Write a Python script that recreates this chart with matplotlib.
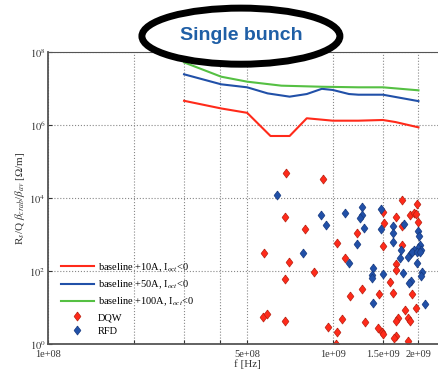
import matplotlib.pyplot as plt
from matplotlib.patches import Ellipse
from matplotlib.lines import Line2D
from matplotlib.ticker import NullLocator

plt.rcParams['font.family'] = ['Liberation Serif', 'DejaVu Serif']
plt.rcParams['mathtext.fontset'] = 'stix'

# baseline thresholds, one frequency grid per curve
f_10a = [3.0e8, 4.05e8, 5.0e8, 6.04e8, 7.05e8, 8.1e8, 1.0e9, 1.23e9, 1.5e9, 1.66e9, 2.0e9]
z_10a = [4.7e6, 2.9e6, 2.2e6, 5.1e5, 5.1e5, 1.56e6, 1.34e6, 1.34e6, 1.4e6, 1.23e6, 8.8e5]

f_50a = [3.0e8, 4.05e8, 5.0e8, 5.9e8, 7.05e8, 8.1e8, 9.15e8, 1.0e9, 1.14e9, 1.23e9, 1.5e9, 2.0e9]
z_50a = [2.5e7, 1.33e7, 1.1e7, 7.5e6, 6.1e6, 7.2e6, 1.0e7, 9.3e6, 7.2e6, 6.9e6, 6.9e6, 4.6e6]

f_100a = [3.0e8, 4.05e8, 5.0e8, 6.6e8, 9.15e8, 1.23e9, 1.5e9, 2.0e9]
z_100a = [5.3e7, 2.15e7, 1.57e7, 1.22e7, 1.14e7, 1.1e7, 1.1e7, 9.1e6]

# HOM impedances, frequency in GHz
dqw_f = [0.686, 0.927, 0.677, 0.796, 0.575, 0.703, 0.857, 0.677, 0.568, 0.589,
         0.677, 0.960, 1.032, 1.22, 1.507, 1.514, 1.507, 1.754, 1.667, 1.746,
         1.754, 1.982, 1.862, 1.923, 1.954, 1.986, 1.10, 1.671, 1.667, 1.592,
         1.265, 1.459, 1.622, 1.901, 1.147, 1.963, 1.795, 1.075, 1.295, 1.69,
         1.663, 1.845, 1.866, 1.439, 1.49, 1.507, 1.032, 1.026, 1.663, 1.64, 1.836]
dqw_z = [4.8e4, 3.3e4, 3.0e3, 1.42e3, 323, 180, 97, 63, 5.7, 6.9,
         4.3, 3.0, 585, 1.14e3, 4.13e3, 2.07e3, 493, 9.0e3, 3.0e3, 1.71e3,
         515, 7.1e3, 3.4e3, 3.9e3, 3.7e3, 2.2e3, 227, 158, 109, 51,
         32, 23.4, 25.4, 23.9, 21, 10.1, 8.5, 4.9, 4.2, 5.15,
         4.35, 5.3, 4.35, 2.74, 2.21, 1.92, 2.17, 1.0, 1.69, 1.46, 1.23]

rfd_f = [0.634, 0.912, 0.946, 0.783, 1.107, 1.271, 1.271, 1.244, 1.291, 1.22,
         1.483, 1.479, 1.622, 1.622, 1.774, 1.63, 1.734, 1.995, 2.009, 2.028,
         1.986, 1.932, 2.042, 1.881, 1.143, 1.383, 1.374, 1.368, 1.503, 1.726,
         1.841, 1.906, 1.969, 2.028, 1.977, 1.767, 2.051, 2.037, 1.881, 1.849,
         1.383, 2.113]
rfd_z = [1.25e4, 3.4e3, 1.85e3, 323, 3.95e3, 5.9e3, 3.5e3, 2.94e3, 1.51e3, 560,
         5.2e3, 1.44e3, 1.74e3, 1.1e3, 1.98e3, 623, 383, 1.29e3, 927, 525,
         427, 383, 383, 311, 172, 126, 79, 65, 86, 231,
         251, 344, 344, 344, 166, 88, 97, 74, 55, 47,
         13.8, 12.9]

red = '#ff2a1a'
blue = '#2150a8'
green = '#55c043'

# slightly squat diamond
diamond = [(0, 1), (0.75, 0), (0, -1), (-0.75, 0), (0, 1)]
mstyle = dict(marker=diamond, ms=6.5, mew=0.5, ls='none')

fig = plt.figure(figsize=(4.38, 3.69), dpi=100)
ax = fig.add_axes([0.1103, 0.0669, 0.908, 0.7913])

ax.plot(f_10a, z_10a, color=red, lw=1.5)
ax.plot(f_50a, z_50a, color=blue, lw=1.5)
ax.plot(f_100a, z_100a, color=green, lw=1.5)

ax.plot([f * 1e9 for f in dqw_f], dqw_z, color=red, mec='#b82010', **mstyle)
ax.plot([f * 1e9 for f in rfd_f], rfd_z, color=blue, mec='#173a80', **mstyle)

ax.set_xscale('log')
ax.set_yscale('log')
ax.set_xlim(1e8, 2.5e9)
ax.set_ylim(1, 1e8)

ax.set_xticks([1e8, 2e8, 3e8, 4e8, 5e8, 1e9, 1.5e9, 2e9])
ax.set_xticklabels(['1e+08', '', '', '', '5e+08', '1e+09', '1.5e+09', '2e+09'])
ax.set_yticks([1, 1e2, 1e4, 1e6, 1e8])
ax.set_yticklabels(['$10^0$', '$10^2$', '$10^4$', '$10^6$', '$10^8$'])
ax.xaxis.set_minor_locator(NullLocator())
ax.yaxis.set_minor_locator(NullLocator())
ax.tick_params(direction='in', labelsize=7.5, length=3, colors='#333333')
ax.tick_params(axis='y', pad=2)
ax.tick_params(axis='x', pad=4)
ax.grid(True, ls=':', color='#888888', lw=0.8)

for side in ['left', 'bottom', 'top']:
    ax.spines[side].set_color('#555555')
ax.spines['left'].set_linewidth(1.3)
ax.spines['bottom'].set_linewidth(1.3)
ax.spines['top'].set_linewidth(0.8)

ax.set_xlabel('f [Hz]', fontsize=8, labelpad=0, color='#333333')
ax.set_ylabel(r'R$_s$/Q $\beta_{crab}$/$\beta_{av}$ [$\Omega$/m]', fontsize=8,
              color='#333333', labelpad=2)

handles = [
    Line2D([], [], color=red, lw=1.5),
    Line2D([], [], color=blue, lw=1.5),
    Line2D([], [], color=green, lw=1.5),
    Line2D([], [], color=red, mec='#b82010', **mstyle),
    Line2D([], [], color=blue, mec='#173a80', **mstyle),
]
labels = ['baseline +10A, I$_{oct}$<0', 'baseline +50A, I$_{oct}$<0',
          'baseline +100A, I$_{oct}$<0', 'DQW', 'RFD']
ax.legend(handles, labels, loc='lower left', bbox_to_anchor=(0.01, 0.0),
          frameon=False, fontsize=7.5, handlelength=3.2, handletextpad=0.4,
          labelspacing=0.45, borderpad=0.3)

# title badge
badge = Ellipse((0.550, 0.902), 0.452, 0.152, transform=fig.transFigure,
                facecolor='white', edgecolor='black', lw=5, zorder=10)
fig.add_artist(badge)
fig.text(0.550, 0.905, 'Single bunch', family='Liberation Sans', weight='bold',
         fontsize=14, color='#1f5fa6', ha='center', va='center', zorder=11)

fig.savefig('out.png', dpi=100)
